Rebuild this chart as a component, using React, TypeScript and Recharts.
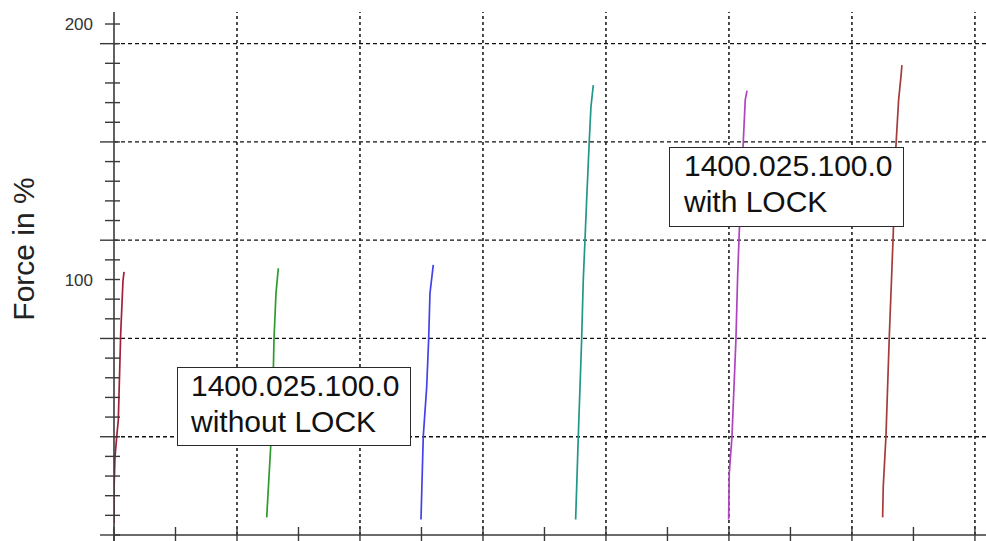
import React from "react";
import { LineChart, Line, XAxis, YAxis, ReferenceLine } from "recharts";

// y axis: 26 minor steps between 0 and 200 %, grid every 5th step
const yStep = 200 / 26;
const yMinorTicks = Array.from({ length: 27 }, (_, k) => k * yStep);
const yGridTicks = [0, 5, 10, 15, 20, 25].map((k) => k * yStep);
const yLabelTicks = [100, 200];

const xTicks = [0, 1, 2, 3, 4, 5, 6, 7, 8, 9, 10, 11, 12, 13, 14];
const xGridTicks = [2, 4, 6, 8, 10, 12, 14];

// measured force ramps (x in stroke units, y in %)
const ramp1 = [
  { x: 0.0, y: 4.7 },
  { x: 0.0, y: 17.6 },
  { x: 0.016, y: 30.5 },
  { x: 0.044, y: 38.4 },
  { x: 0.07, y: 45 },
  { x: 0.109, y: 79 },
  { x: 0.146, y: 99.4 },
  { x: 0.163, y: 103 },
];
const ramp2 = [
  { x: 2.483, y: 6.9 },
  { x: 2.548, y: 34.6 },
  { x: 2.593, y: 66.5 },
  { x: 2.602, y: 76.8 },
  { x: 2.634, y: 94.6 },
  { x: 2.672, y: 104.4 },
];
const ramp3 = [
  { x: 4.992, y: 6.1 },
  { x: 5.029, y: 38.5 },
  { x: 5.085, y: 58.0 },
  { x: 5.117, y: 76.8 },
  { x: 5.138, y: 94.6 },
  { x: 5.192, y: 105.7 },
];
const ramp4 = [
  { x: 7.507, y: 6.1 },
  { x: 7.55, y: 38.5 },
  { x: 7.605, y: 76.7 },
  { x: 7.631, y: 99.8 },
  { x: 7.659, y: 115.5 },
  { x: 7.686, y: 131.1 },
  { x: 7.728, y: 153.9 },
  { x: 7.756, y: 167.6 },
  { x: 7.794, y: 176.1 },
];
const ramp5 = [
  { x: 9.995, y: 6.1 },
  { x: 10.005, y: 24.1 },
  { x: 10.049, y: 38.5 },
  { x: 10.114, y: 76.8 },
  { x: 10.141, y: 101.1 },
  { x: 10.167, y: 118.1 },
  { x: 10.233, y: 153.9 },
  { x: 10.265, y: 170.3 },
  { x: 10.293, y: 173.9 },
];
const ramp6 = [
  { x: 12.499, y: 6.9 },
  { x: 12.509, y: 18.9 },
  { x: 12.553, y: 38.5 },
  { x: 12.606, y: 76.8 },
  { x: 12.645, y: 101.1 },
  { x: 12.672, y: 118.1 },
  { x: 12.715, y: 152 },
  { x: 12.759, y: 170.3 },
  { x: 12.797, y: 179.4 },
  { x: 12.813, y: 183.9 },
];

const series = [
  { name: "ramp1", data: ramp1, color: "#a3203c" },
  { name: "ramp2", data: ramp2, color: "#2f9a2f" },
  { name: "ramp3", data: ramp3, color: "#4242e6" },
  { name: "ramp4", data: ramp4, color: "#23968a" },
  { name: "ramp5", data: ramp5, color: "#b044c0" },
  { name: "ramp6", data: ramp6, color: "#a53c3c" },
];

const axisColor = "#3a3a3a";
const gridColor = "#111";
const font = "'Liberation Sans', Arial, sans-serif";

const isGrid = (v: number) => yGridTicks.some((g) => Math.abs(g - v) < 0.01);

const YTick = (props: any) => {
  const { x, y, payload, index } = props;
  const v = payload.value;
  const left = isGrid(v) ? 14 : 9;
  const label = yLabelTicks.find((l) => Math.abs(l - v) < 0.01);
  return (
    <g>
      <line x1={x - left} x2={x + 6} y1={y} y2={y} stroke={axisColor} strokeWidth={1.4} />
      {index === 0 && <line x1={x} x2={x} y1={y} y2={y + 8} stroke={axisColor} strokeWidth={1.6} />}
      {label !== undefined && (
        <text x={x - 21} y={y} dy={6} textAnchor="end" fontSize={17} fill="#333" fontFamily={font}>
          {label}
        </text>
      )}
    </g>
  );
};

const XTick = (props: any) => {
  const { x, y } = props;
  return <line x1={x} x2={x} y1={y - 8} y2={y + 8} stroke={axisColor} strokeWidth={1.4} />;
};

const boxStyle: React.CSSProperties = {
  position: "absolute",
  boxSizing: "border-box",
  background: "#fff",
  border: "1.6px solid #2a2a2a",
  fontFamily: font,
  fontSize: 30,
  lineHeight: "36px",
  color: "#111",
  whiteSpace: "nowrap",
};

export default function App() {
  return (
    <div style={{ position: "absolute", left: 0, top: 0, width: 986, height: 541, background: "#fff", overflow: "hidden" }}>
      <LineChart width={986} height={541} margin={{ top: 12, right: 0, bottom: 0, left: 0 }}>
        <XAxis
          type="number"
          dataKey="x"
          domain={[0, 14.18]}
          ticks={xTicks}
          interval={0}
          height={6}
          tickSize={0}
          tickMargin={0}
          tickLine={false}
          tick={<XTick />}
          axisLine={{ stroke: axisColor, strokeWidth: 1.6 }}
          allowDataOverflow
        />
        <YAxis
          type="number"
          dataKey="y"
          domain={[0, 204.7]}
          ticks={yMinorTicks}
          interval={0}
          width={114}
          tickSize={0}
          tickMargin={0}
          tickLine={false}
          tick={<YTick />}
          axisLine={{ stroke: axisColor, strokeWidth: 1.6 }}
          allowDataOverflow
          label={{
            content: () => (
              <text
                x={23}
                y={249}
                transform="rotate(-90 23 249)"
                textAnchor="middle"
                dominantBaseline="central"
                fontSize={30}
                fill="#222"
                fontFamily={font}
              >
                Force in %
              </text>
            ),
          }}
        />
        {yGridTicks.slice(1).map((v) => (
          <ReferenceLine key={"gy" + v} y={v} stroke={gridColor} strokeDasharray="4 3" strokeWidth={1.3} />
        ))}
        {xGridTicks.map((v) => (
          <ReferenceLine key={"gx" + v} x={v} stroke={gridColor} strokeDasharray="3 3" strokeWidth={1.5} />
        ))}
        {series.map((s) => (
          <Line
            key={s.name}
            data={s.data}
            dataKey="y"
            type="linear"
            stroke={s.color}
            strokeWidth={1.7}
            dot={false}
            isAnimationActive={false}
          />
        ))}
      </LineChart>
      <div style={{ ...boxStyle, left: 177, top: 367, width: 234, height: 79, paddingLeft: 13 }}>
        1400.025.100.0
        <br />
        without LOCK
      </div>
      <div style={{ ...boxStyle, left: 669, top: 147, width: 235, height: 80, paddingLeft: 14 }}>
        1400.025.100.0
        <br />
        with LOCK
      </div>
    </div>
  );
}
